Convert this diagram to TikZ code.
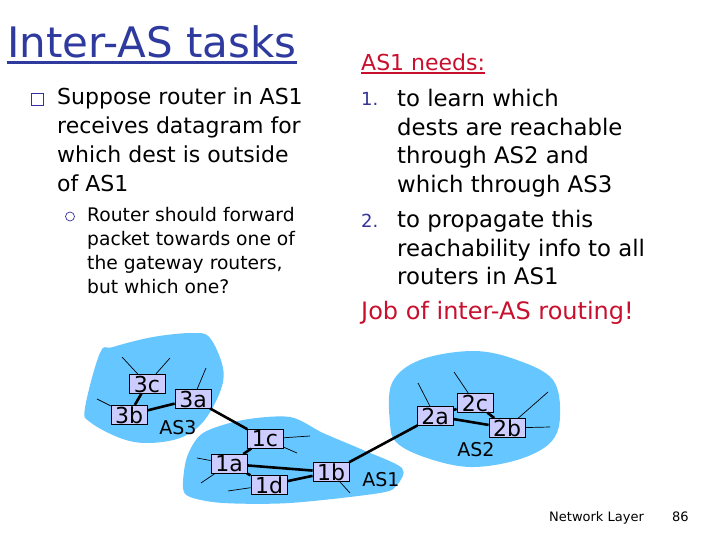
\documentclass[tikz,border=0pt]{standalone}
\usepackage{fontspec}
\usepackage{tikz}
\setmainfont{DejaVu Sans}
\usetikzlibrary{shapes.geometric}
\definecolor{asblue}{HTML}{66C6FF}
\definecolor{routerfill}{HTML}{CCCCFF}
\definecolor{titleblue}{HTML}{2E3A9E}
\definecolor{needred}{HTML}{C8102E}
\definecolor{listblue}{HTML}{33339A}
\tikzset{
	router/.style={cylinder, shape border rotate=90, aspect=0.7, draw=black, thick, cylinder uses custom fill, cylinder body fill=routerfill, cylinder end fill=routerfill, minimum width=36pt, minimum height=19pt, inner sep=0pt, label={[routerlabel]center:#1}},
	routerlabel/.style={inner sep=0pt, font=\fontsize{22}{22}\selectfont},
	link/.style={line width=2.6pt},
	stub/.style={line width=0.7pt},
	aslabel/.style={font=\fontsize{19}{19}\selectfont},
	bigtext/.style={anchor=north west, align=left, inner sep=0pt, font=\fontsize{22}{28.7}\selectfont},
	smalltext/.style={anchor=north west, align=left, inner sep=0pt, font=\fontsize{18.7}{24}\selectfont},
}
\begin{document}
\begin{tikzpicture}[x=1pt, y=-1pt]
	\useasboundingbox (0,0) rectangle (720,540);
	% text
	\node[anchor=base west, inner sep=0pt, text=titleblue, font=\fontsize{42}{42}\selectfont] (title) at (7,58) {Inter-AS tasks};
	\draw[titleblue, line width=3pt] ([yshift=-4.5pt]title.base west) -- ([yshift=-4.5pt]title.base east);
	\node[draw=listblue, minimum size=12pt, inner sep=0pt, line width=0.9pt] (bulletbox) at (37.5,99) {};
	\node[bigtext] (suppose) at (57,88) {Suppose router in AS1\\receives datagram for\\which dest is outside\\of AS1};
	\node[circle, draw=listblue, minimum size=9pt, inner sep=0pt, line width=0.7pt] (bulletcirc) at (70,216.5) {};
	\node[smalltext] (forward) at (87,207) {Router should forward\\packet towards one of\\the gateway routers,\\but which one?};
	\node[anchor=base west, inner sep=0pt, text=needred, font=\fontsize{22}{22}\selectfont] (needs) at (361,71) {AS1 needs:};
	\draw[needred, line width=2pt] ([yshift=-2.5pt]needs.base west) -- ([yshift=-2.5pt]needs.base east);
	\node[anchor=base west, inner sep=0pt, text=listblue, font=\fontsize{18}{18}\selectfont] (numone) at (361,106) {1.};
	\node[bigtext, font=\fontsize{22.8}{28.7}\selectfont] (learn) at (397,89) {to learn which\\dests are reachable\\through AS2 and\\which through AS3};
	\node[anchor=base west, inner sep=0pt, text=listblue, font=\fontsize{18}{18}\selectfont] (numtwo) at (361,227) {2.};
	\node[bigtext, font=\fontsize{22.8}{28.7}\selectfont] (propagate) at (397,210) {to propagate this\\reachability info to all\\routers in AS1};
	\node[anchor=base west, inner sep=0pt, text=needred, font=\fontsize{24}{24}\selectfont] (job) at (361,319) {Job of inter-AS routing!};
	\node[anchor=base west, inner sep=0pt, font=\fontsize{13}{13}\selectfont] (footer) at (549,521) {Network Layer};
	\node[anchor=base west, inner sep=0pt, font=\fontsize{13}{13}\selectfont] (pagenum) at (672,521) {86};
	% clouds
	\fill[asblue] plot[smooth cycle, tension=0.6] coordinates {(100,353) (85,408) (90,422) (120,438) (147,443) (180,438) (203,422) (220,392) (223,368) (210,338) (193,333) (153,337) (113,347)};
	\fill[asblue] plot[smooth cycle, tension=0.5] coordinates {(183,487) (187,457) (203,433) (243,420) (290,417) (323,433) (363,450) (402,468) (397,485) (380,493) (290,503) (223,503) (190,497)};
	\fill[asblue] plot[smooth cycle, tension=0.6] coordinates {(392,383) (390,423) (397,443) (427,458) (470,467) (517,460) (550,443) (560,417) (553,380) (517,360) (473,351) (420,360)};
	\node[aslabel] (asthree) at (178,428) {AS3};
	\node[aslabel] (asone) at (381,480) {AS1};
	\node[aslabel] (astwo) at (476,450) {AS2};
	% routers
	\node[router=3c] (3c) at (147,384) {};
	\node[router=3b] (3b) at (129,415) {};
	\node[router=3a] (3a) at (193,399) {};
	\node[router=1c] (1c) at (265,439) {};
	\node[router=1a] (1a) at (229,464) {};
	\node[router=1d] (1d) at (269,485) {};
	\node[router=1b] (1b) at (331,472) {};
	\node[router=2a] (2a) at (435,416) {};
	\node[router=2c] (2c) at (475,403) {};
	\node[router=2b] (2b) at (507,428) {};
	% links
	\foreach \a/\b in {3c/3b, 3b/3a, 3a/1c, 1c/1a, 1a/1b, 1a/1d, 1d/1b, 1b/2a, 2a/2c, 2a/2b, 2c/2b} {
		\draw[link] (\a) -- (\b);
	}
	% stubs
	\foreach \r/\n/\x/\y in {3c/p/122/357, 3c/q/170/358, 3b/p/97/399, 3a/p/206/368, 1c/p/310/436, 1c/q/297/453, 1a/p/197/458, 1a/q/201/483, 1d/p/228/491, 1b/p/350/493, 2a/p/418/383, 2c/p/454/372, 2b/p/548/392, 2b/q/550/427} {
		\coordinate (\r\n) at (\x,\y);
		\draw[stub] (\r) -- (\r\n);
	}
\end{tikzpicture}
\end{document}
